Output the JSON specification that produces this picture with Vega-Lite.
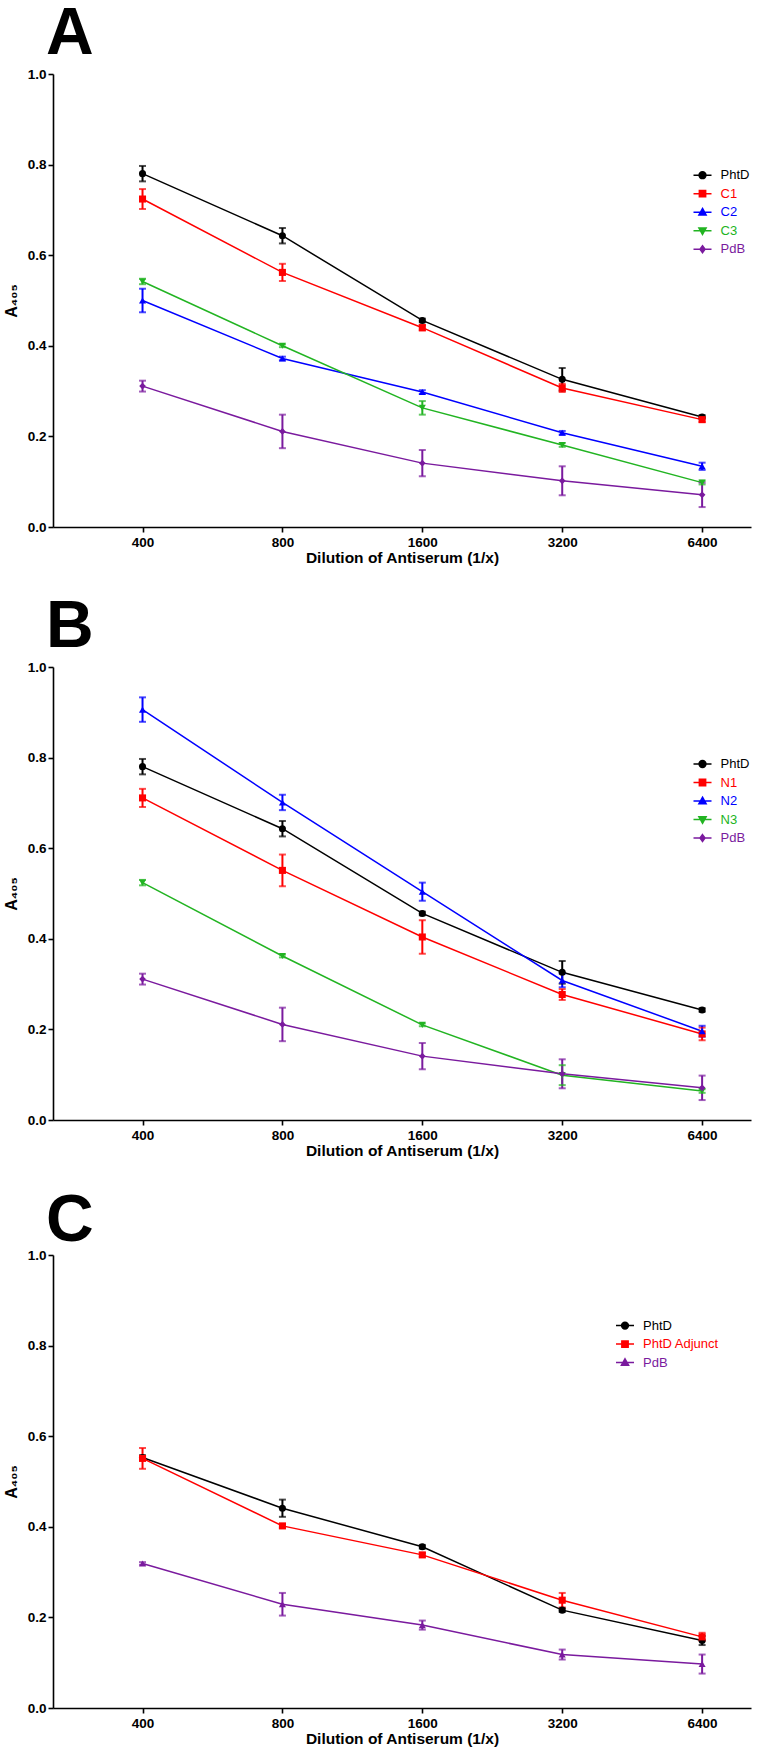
{
  "$schema": "https://vega.github.io/schema/vega-lite/v6.json",
  "padding": {"left": 3, "top": 1, "right": 4, "bottom": 2},
  "spacing": 28,
  "config": {
    "font": "Liberation Sans",
    "view": {"stroke": null},
    "axis": {"domainColor": "#000000", "domainWidth": 1.6, "tickColor": "#000000", "tickWidth": 1.6, "tickSize": 5, "labelFont": "Liberation Sans", "labelFontWeight": "bold", "labelFontSize": 13.5, "labelColor": "#000000", "titleFont": "Liberation Sans", "titleFontWeight": "bold", "titleFontSize": 15.5, "titleColor": "#000000", "grid": false, "labelPadding": 2}
  },
  "resolve": {"scale": {"color": "independent", "x": "independent", "y": "independent"}, "legend": {"color": "independent"}},
  "datasets": {
    "main": [
      {"p": "A", "s": "PhtD", "x": 400, "y": 0.780, "lo": 0.763, "hi": 0.797},
      {"p": "A", "s": "PhtD", "x": 800, "y": 0.643, "lo": 0.626, "hi": 0.660},
      {"p": "A", "s": "PhtD", "x": 1600, "y": 0.456, "lo": 0.452, "hi": 0.460},
      {"p": "A", "s": "PhtD", "x": 3200, "y": 0.326, "lo": 0.301, "hi": 0.351},
      {"p": "A", "s": "PhtD", "x": 6400, "y": 0.243, "lo": 0.239, "hi": 0.247},
      {"p": "A", "s": "C1", "x": 400, "y": 0.724, "lo": 0.702, "hi": 0.746},
      {"p": "A", "s": "C1", "x": 800, "y": 0.562, "lo": 0.543, "hi": 0.581},
      {"p": "A", "s": "C1", "x": 1600, "y": 0.440, "lo": 0.434, "hi": 0.446},
      {"p": "A", "s": "C1", "x": 3200, "y": 0.307, "lo": 0.298, "hi": 0.316},
      {"p": "A", "s": "C1", "x": 6400, "y": 0.237, "lo": 0.232, "hi": 0.242},
      {"p": "A", "s": "C2", "x": 400, "y": 0.500, "lo": 0.474, "hi": 0.526},
      {"p": "A", "s": "C2", "x": 800, "y": 0.372, "lo": 0.368, "hi": 0.376},
      {"p": "A", "s": "C2", "x": 1600, "y": 0.298, "lo": 0.294, "hi": 0.302},
      {"p": "A", "s": "C2", "x": 3200, "y": 0.208, "lo": 0.204, "hi": 0.212},
      {"p": "A", "s": "C2", "x": 6400, "y": 0.134, "lo": 0.126, "hi": 0.142},
      {"p": "A", "s": "C3", "x": 400, "y": 0.542, "lo": 0.536, "hi": 0.548},
      {"p": "A", "s": "C3", "x": 800, "y": 0.400, "lo": 0.397, "hi": 0.403},
      {"p": "A", "s": "C3", "x": 1600, "y": 0.263, "lo": 0.248, "hi": 0.278},
      {"p": "A", "s": "C3", "x": 3200, "y": 0.181, "lo": 0.177, "hi": 0.185},
      {"p": "A", "s": "C3", "x": 6400, "y": 0.098, "lo": 0.094, "hi": 0.102},
      {"p": "A", "s": "PdB", "x": 400, "y": 0.311, "lo": 0.299, "hi": 0.323},
      {"p": "A", "s": "PdB", "x": 800, "y": 0.211, "lo": 0.174, "hi": 0.248},
      {"p": "A", "s": "PdB", "x": 1600, "y": 0.141, "lo": 0.112, "hi": 0.170},
      {"p": "A", "s": "PdB", "x": 3200, "y": 0.102, "lo": 0.070, "hi": 0.134},
      {"p": "A", "s": "PdB", "x": 6400, "y": 0.071, "lo": 0.044, "hi": 0.098},
      {"p": "B", "s": "PhtD", "x": 400, "y": 0.780, "lo": 0.763, "hi": 0.797},
      {"p": "B", "s": "PhtD", "x": 800, "y": 0.643, "lo": 0.626, "hi": 0.660},
      {"p": "B", "s": "PhtD", "x": 1600, "y": 0.456, "lo": 0.452, "hi": 0.460},
      {"p": "B", "s": "PhtD", "x": 3200, "y": 0.326, "lo": 0.301, "hi": 0.351},
      {"p": "B", "s": "PhtD", "x": 6400, "y": 0.243, "lo": 0.239, "hi": 0.247},
      {"p": "B", "s": "N1", "x": 400, "y": 0.711, "lo": 0.691, "hi": 0.731},
      {"p": "B", "s": "N1", "x": 800, "y": 0.551, "lo": 0.516, "hi": 0.586},
      {"p": "B", "s": "N1", "x": 1600, "y": 0.404, "lo": 0.367, "hi": 0.441},
      {"p": "B", "s": "N1", "x": 3200, "y": 0.277, "lo": 0.265, "hi": 0.289},
      {"p": "B", "s": "N1", "x": 6400, "y": 0.190, "lo": 0.176, "hi": 0.204},
      {"p": "B", "s": "N2", "x": 400, "y": 0.906, "lo": 0.879, "hi": 0.933},
      {"p": "B", "s": "N2", "x": 800, "y": 0.701, "lo": 0.684, "hi": 0.718},
      {"p": "B", "s": "N2", "x": 1600, "y": 0.504, "lo": 0.484, "hi": 0.524},
      {"p": "B", "s": "N2", "x": 3200, "y": 0.308, "lo": 0.293, "hi": 0.323},
      {"p": "B", "s": "N2", "x": 6400, "y": 0.196, "lo": 0.184, "hi": 0.208},
      {"p": "B", "s": "N3", "x": 400, "y": 0.524, "lo": 0.518, "hi": 0.530},
      {"p": "B", "s": "N3", "x": 800, "y": 0.362, "lo": 0.359, "hi": 0.365},
      {"p": "B", "s": "N3", "x": 1600, "y": 0.210, "lo": 0.207, "hi": 0.213},
      {"p": "B", "s": "N3", "x": 3200, "y": 0.099, "lo": 0.077, "hi": 0.121},
      {"p": "B", "s": "N3", "x": 6400, "y": 0.064, "lo": 0.060, "hi": 0.068},
      {"p": "B", "s": "PdB", "x": 400, "y": 0.311, "lo": 0.299, "hi": 0.323},
      {"p": "B", "s": "PdB", "x": 800, "y": 0.211, "lo": 0.174, "hi": 0.248},
      {"p": "B", "s": "PdB", "x": 1600, "y": 0.141, "lo": 0.112, "hi": 0.170},
      {"p": "B", "s": "PdB", "x": 3200, "y": 0.102, "lo": 0.070, "hi": 0.134},
      {"p": "B", "s": "PdB", "x": 6400, "y": 0.071, "lo": 0.044, "hi": 0.098},
      {"p": "C", "s": "PhtD", "x": 400, "y": 0.553, "lo": 0.548, "hi": 0.558},
      {"p": "C", "s": "PhtD", "x": 800, "y": 0.441, "lo": 0.422, "hi": 0.460},
      {"p": "C", "s": "PhtD", "x": 1600, "y": 0.356, "lo": 0.352, "hi": 0.360},
      {"p": "C", "s": "PhtD", "x": 3200, "y": 0.216, "lo": 0.212, "hi": 0.220},
      {"p": "C", "s": "PhtD", "x": 6400, "y": 0.149, "lo": 0.139, "hi": 0.159},
      {"p": "C", "s": "PhtD Adjunct", "x": 400, "y": 0.551, "lo": 0.528, "hi": 0.574},
      {"p": "C", "s": "PhtD Adjunct", "x": 800, "y": 0.402, "lo": 0.398, "hi": 0.406},
      {"p": "C", "s": "PhtD Adjunct", "x": 1600, "y": 0.338, "lo": 0.334, "hi": 0.342},
      {"p": "C", "s": "PhtD Adjunct", "x": 3200, "y": 0.238, "lo": 0.222, "hi": 0.254},
      {"p": "C", "s": "PhtD Adjunct", "x": 6400, "y": 0.157, "lo": 0.148, "hi": 0.166},
      {"p": "C", "s": "PdB", "x": 400, "y": 0.319, "lo": 0.316, "hi": 0.322},
      {"p": "C", "s": "PdB", "x": 800, "y": 0.229, "lo": 0.204, "hi": 0.254},
      {"p": "C", "s": "PdB", "x": 1600, "y": 0.183, "lo": 0.173, "hi": 0.193},
      {"p": "C", "s": "PdB", "x": 3200, "y": 0.118, "lo": 0.107, "hi": 0.129},
      {"p": "C", "s": "PdB", "x": 6400, "y": 0.097, "lo": 0.076, "hi": 0.118}
    ],
    "minor": [
      {"x": 286}, {"x": 314}, {"x": 340}, {"x": 369},
      {"x": 426}, {"x": 457}, {"x": 483}, {"x": 571}, {"x": 628}, {"x": 680}, {"x": 739},
      {"x": 853}, {"x": 914}, {"x": 966}, {"x": 1142}, {"x": 1255}, {"x": 1359}, {"x": 1478},
      {"x": 1706}, {"x": 1829}, {"x": 1931}, {"x": 2285}, {"x": 2510}, {"x": 2718}, {"x": 2955},
      {"x": 3411}, {"x": 3658}, {"x": 3862}, {"x": 4570}, {"x": 5021}, {"x": 5437}, {"x": 5910},
      {"x": 6822}, {"x": 7315}, {"x": 7725}
    ]
  },
  "vconcat": [
    {
      "width": 698, "height": 453,
      "title": {"text": "A", "anchor": "start", "frame": "group", "fontSize": 66, "font": "Liberation Sans", "fontWeight": "bold", "baseline": "alphabetic", "offset": -53.3, "dx": -7, "color": "#000000"},
      "data": {"name": "main"},
      "transform": [{"filter": "datum.p === 'A'"}],
      "encoding": {
        "x": {"field": "x", "type": "quantitative", "scale": {"type": "log", "domain": [256.7, 8154], "nice": false}, "axis": {"values": [400, 800, 1600, 3200, 6400], "format": "d", "title": "Dilution of Antiserum (1/x)", "labelPadding": 3, "titlePadding": 2, "labelFlush": false}},
        "y": {"field": "y", "type": "quantitative", "scale": {"domain": [0, 1], "nice": false, "zero": false}, "axis": {"values": [0, 0.2, 0.4, 0.6, 0.8, 1.0], "format": ".1f", "title": "A₄₀₅", "titleFontSize": 16, "titlePadding": 8}},
        "color": {"field": "s", "type": "nominal", "scale": {"domain": ["PhtD", "C1", "C2", "C3", "PdB"], "range": ["#000000", "#FF0000", "#0000FF", "#22B422", "#7A1A9E"]},
          "legend": {"orient": "none", "legendX": 639.5, "legendY": 91.2, "title": null, "padding": 0, "symbolSize": 324, "symbolStrokeWidth": 1.5, "labelFont": "Liberation Sans", "labelFontSize": 13, "labelOffset": 8, "rowPadding": 1.5,
            "encode": {
              "symbols": {"update": {"shape": {"signal": "['M-1,0H1M-0.38,0A0.38,0.38,0,1,0,0.38,0A0.38,0.38,0,1,0,-0.38,0Z','M-1,0H1M-0.35,-0.35H0.35V0.35H-0.35Z','M-1,0H1M0,-0.42L0.4,0.3H-0.4Z','M-1,0H1M0,0.42L0.4,-0.3H-0.4Z','M-1,0H1M0,-0.38L0.28,0L0,0.38L-0.28,0Z'][indexof(['PhtD','C1','C2','C3','PdB'], datum.value)]"}, "fill": {"signal": "['#000000','#FF0000','#0000FF','#22B422','#7A1A9E'][indexof(['PhtD','C1','C2','C3','PdB'], datum.value)]"}, "stroke": {"signal": "['#000000','#FF0000','#0000FF','#22B422','#7A1A9E'][indexof(['PhtD','C1','C2','C3','PdB'], datum.value)]"}, "strokeWidth": {"value": 1.5}, "opacity": {"value": 1}, "fillOpacity": {"value": 1}}},
              "labels": {"update": {"fill": {"signal": "['#000000','#FF0000','#0000FF','#22B422','#7A1A9E'][indexof(['PhtD','C1','C2','C3','PdB'], datum.value)]"}}}
            }}}
      },
      "layer": [
        {"data": {"name": "minor"}, "mark": {"type": "rule", "color": "#000000", "strokeWidth": 1.5}, "encoding": {"x": {"field": "x", "type": "quantitative"}, "y": {"datum": 0}, "y2": {"datum": -0.0075}, "color": {"value": "#000000"}}},
        {"mark": {"type": "line", "strokeWidth": 1.5}},
        {"mark": {"type": "rule", "strokeWidth": 2}, "encoding": {"y": {"field": "lo", "type": "quantitative"}, "y2": {"field": "hi"}}},
        {"mark": {"type": "tick", "orient": "horizontal", "size": 7, "thickness": 2}, "encoding": {"y": {"field": "lo", "type": "quantitative"}}},
        {"mark": {"type": "tick", "orient": "horizontal", "size": 7, "thickness": 2}, "encoding": {"y": {"field": "hi", "type": "quantitative"}}},
        {"transform": [{"filter": "datum.s === 'PhtD'"}], "mark": {"type": "point", "filled": true, "size": 50, "opacity": 1, "shape": "circle"}, "encoding": {"color": {"value": "#000000"}}},
        {"transform": [{"filter": "datum.s === 'C1'"}], "mark": {"type": "point", "filled": true, "size": 50, "opacity": 1, "shape": "square"}, "encoding": {"color": {"value": "#FF0000"}}},
        {"transform": [{"filter": "datum.s === 'C2'"}], "mark": {"type": "point", "filled": true, "size": 50, "opacity": 1, "shape": "triangle-up"}, "encoding": {"color": {"value": "#0000FF"}}},
        {"transform": [{"filter": "datum.s === 'C3'"}], "mark": {"type": "point", "filled": true, "size": 50, "opacity": 1, "shape": "triangle-down"}, "encoding": {"color": {"value": "#22B422"}}},
        {"transform": [{"filter": "datum.s === 'PdB'"}], "mark": {"type": "point", "filled": true, "size": 45, "opacity": 1, "shape": "diamond"}, "encoding": {"color": {"value": "#7A1A9E"}}}
      ]
    },
    {
      "width": 698, "height": 453,
      "title": {"text": "B", "anchor": "start", "frame": "group", "fontSize": 66, "font": "Liberation Sans", "fontWeight": "bold", "baseline": "alphabetic", "offset": -53.3, "dx": -7, "color": "#000000"},
      "data": {"name": "main"},
      "transform": [{"filter": "datum.p === 'B'"}],
      "encoding": {
        "x": {"field": "x", "type": "quantitative", "scale": {"type": "log", "domain": [256.7, 8154], "nice": false}, "axis": {"values": [400, 800, 1600, 3200, 6400], "format": "d", "title": "Dilution of Antiserum (1/x)", "labelPadding": 3, "titlePadding": 2, "labelFlush": false}},
        "y": {"field": "y", "type": "quantitative", "scale": {"domain": [0, 1], "nice": false, "zero": false}, "axis": {"values": [0, 0.2, 0.4, 0.6, 0.8, 1.0], "format": ".1f", "title": "A₄₀₅", "titleFontSize": 16, "titlePadding": 8}},
        "color": {"field": "s", "type": "nominal", "scale": {"domain": ["PhtD", "N1", "N2", "N3", "PdB"], "range": ["#000000", "#FF0000", "#0000FF", "#22B422", "#7A1A9E"]},
          "legend": {"orient": "none", "legendX": 639.5, "legendY": 87, "title": null, "padding": 0, "symbolSize": 324, "symbolStrokeWidth": 1.5, "labelFont": "Liberation Sans", "labelFontSize": 13, "labelOffset": 8, "rowPadding": 1.5,
            "encode": {
              "symbols": {"update": {"shape": {"signal": "['M-1,0H1M-0.38,0A0.38,0.38,0,1,0,0.38,0A0.38,0.38,0,1,0,-0.38,0Z','M-1,0H1M-0.35,-0.35H0.35V0.35H-0.35Z','M-1,0H1M0,-0.42L0.4,0.3H-0.4Z','M-1,0H1M0,0.42L0.4,-0.3H-0.4Z','M-1,0H1M0,-0.38L0.28,0L0,0.38L-0.28,0Z'][indexof(['PhtD','N1','N2','N3','PdB'], datum.value)]"}, "fill": {"signal": "['#000000','#FF0000','#0000FF','#22B422','#7A1A9E'][indexof(['PhtD','N1','N2','N3','PdB'], datum.value)]"}, "stroke": {"signal": "['#000000','#FF0000','#0000FF','#22B422','#7A1A9E'][indexof(['PhtD','N1','N2','N3','PdB'], datum.value)]"}, "strokeWidth": {"value": 1.5}, "opacity": {"value": 1}, "fillOpacity": {"value": 1}}},
              "labels": {"update": {"fill": {"signal": "['#000000','#FF0000','#0000FF','#22B422','#7A1A9E'][indexof(['PhtD','N1','N2','N3','PdB'], datum.value)]"}}}
            }}}
      },
      "layer": [
        {"data": {"name": "minor"}, "mark": {"type": "rule", "color": "#000000", "strokeWidth": 1.5}, "encoding": {"x": {"field": "x", "type": "quantitative"}, "y": {"datum": 0}, "y2": {"datum": -0.0075}, "color": {"value": "#000000"}}},
        {"mark": {"type": "line", "strokeWidth": 1.5}},
        {"mark": {"type": "rule", "strokeWidth": 2}, "encoding": {"y": {"field": "lo", "type": "quantitative"}, "y2": {"field": "hi"}}},
        {"mark": {"type": "tick", "orient": "horizontal", "size": 7, "thickness": 2}, "encoding": {"y": {"field": "lo", "type": "quantitative"}}},
        {"mark": {"type": "tick", "orient": "horizontal", "size": 7, "thickness": 2}, "encoding": {"y": {"field": "hi", "type": "quantitative"}}},
        {"transform": [{"filter": "datum.s === 'PhtD'"}], "mark": {"type": "point", "filled": true, "size": 50, "opacity": 1, "shape": "circle"}, "encoding": {"color": {"value": "#000000"}}},
        {"transform": [{"filter": "datum.s === 'N1'"}], "mark": {"type": "point", "filled": true, "size": 50, "opacity": 1, "shape": "square"}, "encoding": {"color": {"value": "#FF0000"}}},
        {"transform": [{"filter": "datum.s === 'N2'"}], "mark": {"type": "point", "filled": true, "size": 50, "opacity": 1, "shape": "triangle-up"}, "encoding": {"color": {"value": "#0000FF"}}},
        {"transform": [{"filter": "datum.s === 'N3'"}], "mark": {"type": "point", "filled": true, "size": 50, "opacity": 1, "shape": "triangle-down"}, "encoding": {"color": {"value": "#22B422"}}},
        {"transform": [{"filter": "datum.s === 'PdB'"}], "mark": {"type": "point", "filled": true, "size": 45, "opacity": 1, "shape": "diamond"}, "encoding": {"color": {"value": "#7A1A9E"}}}
      ]
    },
    {
      "width": 698, "height": 453,
      "title": {"text": "C", "anchor": "start", "frame": "group", "fontSize": 66, "font": "Liberation Sans", "fontWeight": "bold", "baseline": "alphabetic", "offset": -58.6, "dx": -7, "color": "#000000"},
      "data": {"name": "main"},
      "transform": [{"filter": "datum.p === 'C'"}],
      "encoding": {
        "x": {"field": "x", "type": "quantitative", "scale": {"type": "log", "domain": [256.7, 8154], "nice": false}, "axis": {"values": [400, 800, 1600, 3200, 6400], "format": "d", "title": "Dilution of Antiserum (1/x)", "labelPadding": 3, "titlePadding": 2, "labelFlush": false}},
        "y": {"field": "y", "type": "quantitative", "scale": {"domain": [0, 1], "nice": false, "zero": false}, "axis": {"values": [0, 0.2, 0.4, 0.6, 0.8, 1.0], "format": ".1f", "title": "A₄₀₅", "titleFontSize": 16, "titlePadding": 8}},
        "color": {"field": "s", "type": "nominal", "scale": {"domain": ["PhtD", "PhtD Adjunct", "PdB"], "range": ["#000000", "#FF0000", "#7A1A9E"]},
          "legend": {"orient": "none", "legendX": 562, "legendY": 60.6, "title": null, "padding": 0, "symbolSize": 324, "symbolStrokeWidth": 1.5, "labelFont": "Liberation Sans", "labelFontSize": 13, "labelOffset": 8, "rowPadding": 1.5,
            "encode": {
              "symbols": {"update": {"shape": {"signal": "['M-1,0H1M-0.38,0A0.38,0.38,0,1,0,0.38,0A0.38,0.38,0,1,0,-0.38,0Z','M-1,0H1M-0.35,-0.35H0.35V0.35H-0.35Z','M-1,0H1M0,-0.42L0.4,0.3H-0.4Z'][indexof(['PhtD','PhtD Adjunct','PdB'], datum.value)]"}, "fill": {"signal": "['#000000','#FF0000','#7A1A9E'][indexof(['PhtD','PhtD Adjunct','PdB'], datum.value)]"}, "stroke": {"signal": "['#000000','#FF0000','#7A1A9E'][indexof(['PhtD','PhtD Adjunct','PdB'], datum.value)]"}, "strokeWidth": {"value": 1.5}, "opacity": {"value": 1}, "fillOpacity": {"value": 1}}},
              "labels": {"update": {"fill": {"signal": "['#000000','#FF0000','#7A1A9E'][indexof(['PhtD','PhtD Adjunct','PdB'], datum.value)]"}}}
            }}}
      },
      "layer": [
        {"data": {"name": "minor"}, "mark": {"type": "rule", "color": "#000000", "strokeWidth": 1.5}, "encoding": {"x": {"field": "x", "type": "quantitative"}, "y": {"datum": 0}, "y2": {"datum": -0.0075}, "color": {"value": "#000000"}}},
        {"mark": {"type": "line", "strokeWidth": 1.5}},
        {"mark": {"type": "rule", "strokeWidth": 2}, "encoding": {"y": {"field": "lo", "type": "quantitative"}, "y2": {"field": "hi"}}},
        {"mark": {"type": "tick", "orient": "horizontal", "size": 7, "thickness": 2}, "encoding": {"y": {"field": "lo", "type": "quantitative"}}},
        {"mark": {"type": "tick", "orient": "horizontal", "size": 7, "thickness": 2}, "encoding": {"y": {"field": "hi", "type": "quantitative"}}},
        {"transform": [{"filter": "datum.s === 'PhtD'"}], "mark": {"type": "point", "filled": true, "size": 50, "opacity": 1, "shape": "circle"}, "encoding": {"color": {"value": "#000000"}}},
        {"transform": [{"filter": "datum.s === 'PhtD Adjunct'"}], "mark": {"type": "point", "filled": true, "size": 50, "opacity": 1, "shape": "square"}, "encoding": {"color": {"value": "#FF0000"}}},
        {"transform": [{"filter": "datum.s === 'PdB'"}], "mark": {"type": "point", "filled": true, "size": 50, "opacity": 1, "shape": "triangle-up"}, "encoding": {"color": {"value": "#7A1A9E"}}}
      ]
    }
  ]
}
